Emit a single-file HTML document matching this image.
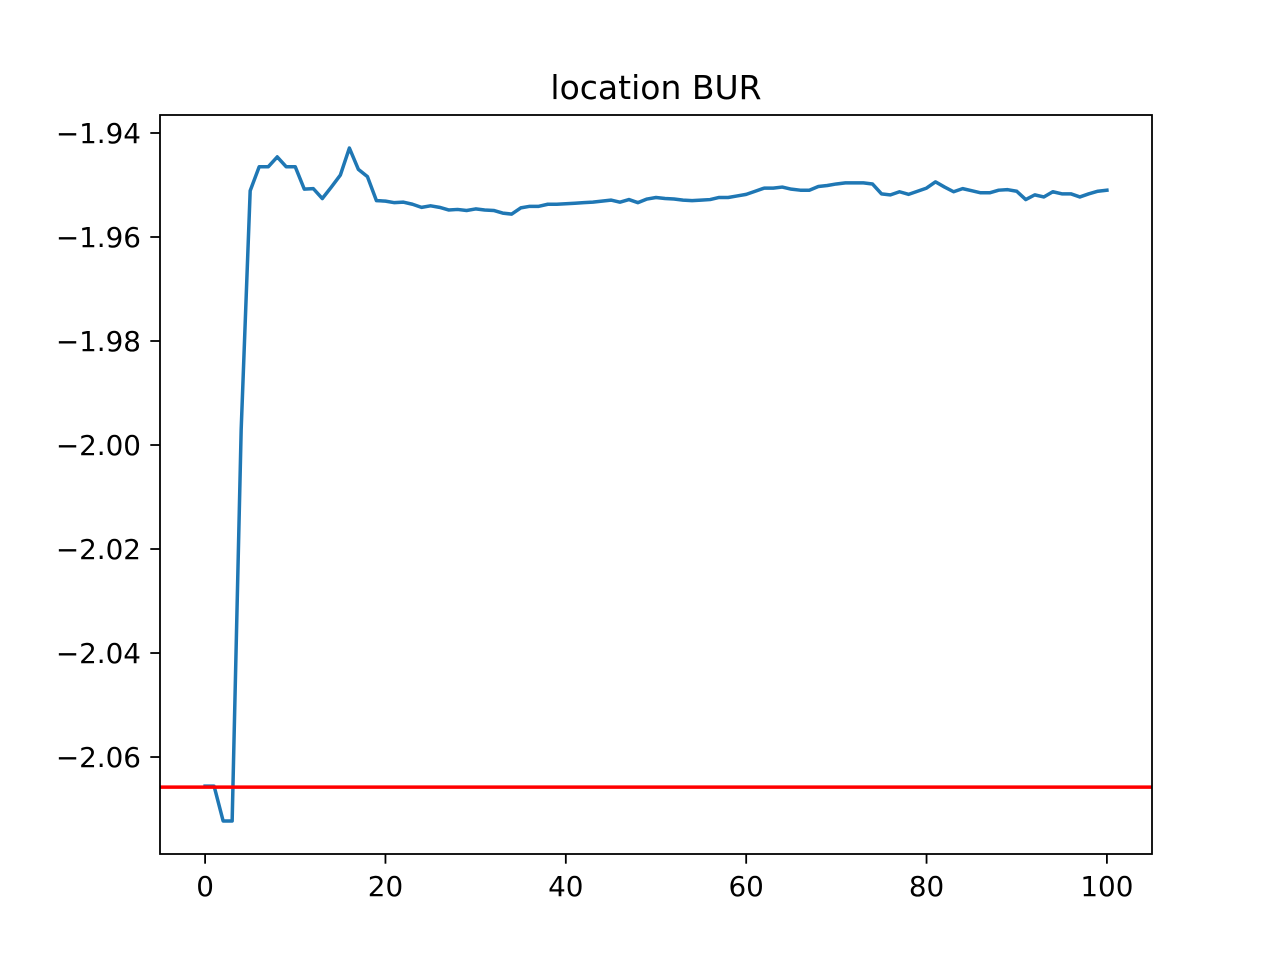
<!DOCTYPE html>
<html><head><meta charset="utf-8"><style>body{margin:0;background:#fff}svg{display:block}text{font-family:"DejaVu Sans","Liberation Sans",sans-serif;fill:#000}</style></head>
<body>
<svg id="chart" width="1280" height="960">
<rect width="1280" height="960" fill="#fff"/>
<text x="656" y="99" font-size="33" text-anchor="middle">location BUR</text>
<g id="plot"></g>
</svg>
<script>
const seriesValues = [-2.0656,-2.0656,-2.0723,-2.0723,-1.9971,-1.9511,-1.9465,-1.9465,-1.9446,-1.9465,-1.9465,
-1.9508,-1.9507,-1.9526,-1.9504,-1.9481,-1.9429,-1.9470,-1.9484,-1.9530,-1.9531,
-1.9534,-1.9533,-1.9537,-1.9543,-1.9540,-1.9543,-1.9548,-1.9547,-1.9549,-1.9546,
-1.9548,-1.9549,-1.9554,-1.9556,-1.9544,-1.9541,-1.9541,-1.9537,-1.9537,-1.9536,
-1.9535,-1.9534,-1.9533,-1.9531,-1.9529,-1.9533,-1.9528,-1.9534,-1.9527,-1.9524,
-1.9526,-1.9527,-1.9529,-1.9530,-1.9529,-1.9528,-1.9524,-1.9524,-1.9521,-1.9518,
-1.9512,-1.9506,-1.9506,-1.9504,-1.9508,-1.9510,-1.9510,-1.9503,-1.9501,-1.9498,
-1.9496,-1.9496,-1.9496,-1.9498,-1.9517,-1.9519,-1.9513,-1.9518,-1.9512,-1.9506,
-1.9494,-1.9504,-1.9513,-1.9507,-1.9511,-1.9515,-1.9515,-1.9510,-1.9509,-1.9512,
-1.9528,-1.9519,-1.9523,-1.9513,-1.9517,-1.9517,-1.9523,-1.9517,-1.9512,-1.9510];
const referenceValue = -2.0658;
const xTicks = [0,20,40,60,80,100];
const yTicks = [-1.94,-1.96,-1.98,-2.00,-2.02,-2.04,-2.06];
const yTickLabels = ["\u22121.94","\u22121.96","\u22121.98","\u22122.00","\u22122.02","\u22122.04","\u22122.06"];

const L=160,R=1152,T=115,B=854;
const xMin=-5,xMax=105,yMin=-2.07865,yMax=-1.93654;
const xs=v=>L+(v-xMin)/(xMax-xMin)*(R-L);
const ys=v=>B-(v-yMin)/(yMax-yMin)*(B-T);
const NS="http://www.w3.org/2000/svg";
const g=document.getElementById('plot');
function mk(tag,attrs){const e=document.createElementNS(NS,tag);for(const k in attrs)e.setAttribute(k,attrs[k]);g.appendChild(e);return e;}

const line=mk('polyline',{points:seriesValues.map((v,i)=>xs(i).toFixed(2)+','+ys(v).toFixed(2)).join(' '),fill:'none',stroke:'#1f77b4','stroke-width':3.5,'stroke-linejoin':'round','stroke-linecap':'square'});


const ref=mk('line',{x1:L,x2:R,y1:ys(referenceValue),y2:ys(referenceValue),stroke:'#ff0000','stroke-width':3.5});


const frame=mk('rect',{x:L,y:T,width:R-L,height:B-T,fill:'none',stroke:'#000','stroke-width':1.8});


xTicks.forEach(t=>{
  const tk=mk('line',{x1:xs(t),x2:xs(t),y1:B,y2:B+9.7,stroke:'#000','stroke-width':1.8});
  
  
  const tx=mk('text',{x:xs(t),y:B+42,'font-size':27.8,'text-anchor':'middle'});
  tx.textContent=String(t);
  
  
});
yTicks.forEach((t,i)=>{
  const tk=mk('line',{x1:L-9.7,x2:L,y1:ys(t),y2:ys(t),stroke:'#000','stroke-width':1.8});
  
  
  const tx=mk('text',{x:L-19,y:ys(t)+10,'font-size':27.8,'text-anchor':'end'});
  tx.textContent=yTickLabels[i];
  
  
});
</script>
</body></html>
